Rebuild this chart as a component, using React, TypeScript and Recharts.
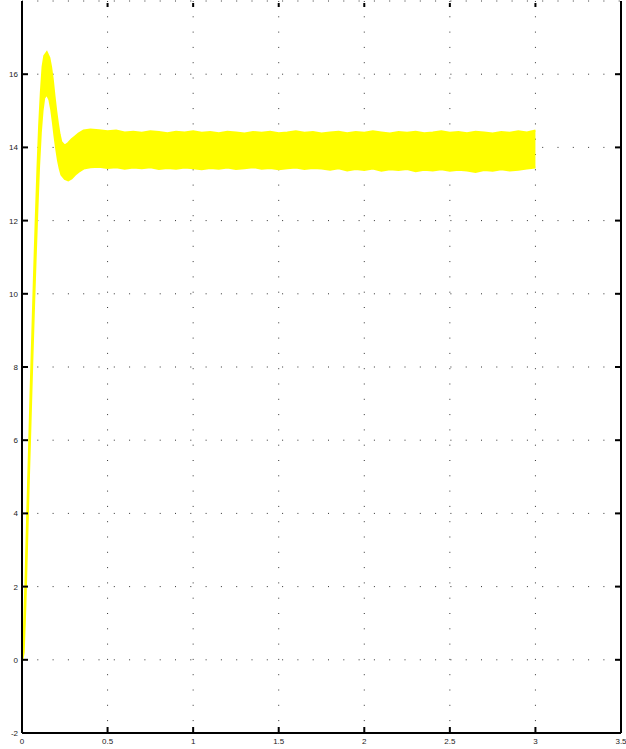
import { AreaChart, Area, XAxis, YAxis, CartesianGrid } from 'recharts';

// time (s) and the upper / lower envelope of the oscillating signal
const times = [
  0, 0.01, 0.02, 0.03, 0.04, 0.05, 0.06, 0.07, 0.08, 0.09, 0.1, 0.11, 0.12, 0.13, 0.145, 0.16,
  0.17, 0.18, 0.19, 0.2, 0.21, 0.22, 0.23, 0.25, 0.27, 0.29, 0.31, 0.33, 0.36, 0.4,
  0.45, 0.5, 0.55, 0.6, 0.65, 0.7, 0.75, 0.8, 0.85, 0.9, 0.95, 1.0, 1.05, 1.1, 1.15, 1.2,
  1.25, 1.3, 1.35, 1.4, 1.45, 1.5, 1.55, 1.6, 1.65, 1.7, 1.75, 1.8, 1.85, 1.9, 1.95, 2.0,
  2.05, 2.1, 2.15, 2.2, 2.25, 2.3, 2.35, 2.4, 2.45, 2.5, 2.55, 2.6, 2.65, 2.7, 2.75, 2.8,
  2.85, 2.9, 2.95, 3.0,
];

const upper = [
  0.05, 0.6, 2.1, 3.9, 5.6, 7.3, 8.9, 10.5, 12.0, 13.4, 14.6, 15.5, 16.2, 16.5, 16.6, 16.45,
  16.2, 15.85, 15.4, 15.0, 14.65, 14.35, 14.15, 14.05, 14.12, 14.22, 14.3, 14.38, 14.46, 14.49,
  14.47, 14.44, 14.46, 14.41, 14.43, 14.4, 14.44, 14.42, 14.39, 14.43, 14.41, 14.44, 14.4, 14.42, 14.39, 14.43,
  14.41, 14.38, 14.42, 14.4, 14.43, 14.39, 14.41, 14.44, 14.4, 14.42, 14.38, 14.41, 14.43, 14.39, 14.42, 14.4,
  14.44, 14.41, 14.38, 14.42, 14.4, 14.43, 14.39, 14.41, 14.44, 14.4, 14.42, 14.39, 14.43, 14.41, 14.38, 14.42,
  14.4, 14.44, 14.41, 14.46,
];

const lower = [
  -0.05, 0.2, 1.5, 3.2, 4.9, 6.5, 8.1, 9.6, 11.0, 12.3, 13.5, 14.4, 15.0, 15.35, 15.45, 15.3,
  15.05, 14.7, 14.3, 13.95, 13.65, 13.42, 13.25, 13.14, 13.1, 13.15, 13.25, 13.33, 13.42, 13.46,
  13.47, 13.44, 13.46, 13.42, 13.45, 13.43, 13.46, 13.41, 13.44, 13.42, 13.45, 13.43, 13.4, 13.44, 13.42, 13.45,
  13.41, 13.43, 13.46, 13.42, 13.44, 13.4, 13.43, 13.45, 13.41, 13.44, 13.42, 13.39, 13.43, 13.37, 13.41, 13.38,
  13.42, 13.36, 13.4, 13.38, 13.41, 13.35, 13.39, 13.37, 13.4, 13.36, 13.39, 13.37, 13.33, 13.38, 13.36, 13.4,
  13.37, 13.39, 13.42, 13.45,
];

const xTicks = [0, 0.5, 1, 1.5, 2, 2.5, 3, 3.5];
const yTicks = [-2, 0, 2, 4, 6, 8, 10, 12, 14, 16];

const data = times.map((t, i) => ({ t, band: [lower[i], upper[i]] }));

const labelFont = { fontFamily: 'Liberation Sans, Arial, sans-serif', fontSize: 8, fill: '#222' };

// MATLAB style ticks point into the plot; marks drawn as small filled rects
const leftTick = (props: any) => (
  <g key={`l-${props.payload.value}`}>
    <rect x={props.x} y={props.y - 1} width={6} height={2} fill="#000" />
    <text x={props.x - 4} y={props.y + 3} textAnchor="end" {...labelFont}>
      {props.payload.value}
    </text>
  </g>
);

const rightTick = (props: any) => (
  <rect key={`r-${props.payload.value}`} x={props.x - 6} y={props.y - 1} width={6} height={2} fill="#000" />
);

const bottomTick = (props: any) => (
  <g key={`b-${props.payload.value}`}>
    <rect x={props.x - 1} y={props.y - 6} width={2} height={6} fill="#000" />
    <text x={props.x} y={props.y + 11} textAnchor="middle" {...labelFont}>
      {props.payload.value}
    </text>
  </g>
);

const topTick = (props: any) => (
  <rect key={`t-${props.payload.value}`} x={props.x - 1} y={props.y + 2} width={2} height={4} fill="#000" />
);

export default function App() {
  return (
    <div style={{ position: 'absolute', left: 0, top: 0, width: 626, height: 749, background: '#fff' }}>
      <AreaChart
        width={626}
        height={749}
        data={data}
        margin={{ top: 0, right: 0, bottom: 0, left: 0 }}
      >
        <CartesianGrid stroke="#333" strokeDasharray="1 14.3" />
        <XAxis
          dataKey="t"
          type="number"
          domain={[0, 3.5]}
          ticks={xTicks}
          interval={0}
          height={16}
          tickSize={0}
          tickMargin={0}
          tickLine={false}
          axisLine={{ stroke: '#000', strokeWidth: 2 }}
          tick={bottomTick}
          allowDataOverflow
        />
        <XAxis
          xAxisId="top"
          dataKey="t"
          orientation="top"
          type="number"
          domain={[0, 3.5]}
          ticks={xTicks.slice(1, -1)}
          interval={0}
          height={1}
          tickSize={0}
          tickMargin={0}
          tickLine={false}
          axisLine={false}
          tick={topTick}
          allowDataOverflow
        />
        <YAxis
          type="number"
          domain={[-2, 18]}
          ticks={yTicks}
          interval={0}
          width={22}
          tickSize={0}
          tickMargin={0}
          tickLine={false}
          axisLine={{ stroke: '#000', strokeWidth: 2 }}
          tick={leftTick}
          allowDataOverflow
        />
        <YAxis
          yAxisId="right"
          orientation="right"
          type="number"
          domain={[-2, 18]}
          ticks={yTicks.slice(1)}
          interval={0}
          width={5}
          tickSize={0}
          tickMargin={0}
          tickLine={false}
          axisLine={{ stroke: '#000', strokeWidth: 2 }}
          tick={rightTick}
          allowDataOverflow
        />
        <Area
          dataKey="band"
          type="linear"
          fill="#ffff00"
          fillOpacity={1}
          stroke="#ffff00"
          strokeWidth={2}
          isAnimationActive={false}
          dot={false}
          activeDot={false}
        />
      </AreaChart>
    </div>
  );
}
